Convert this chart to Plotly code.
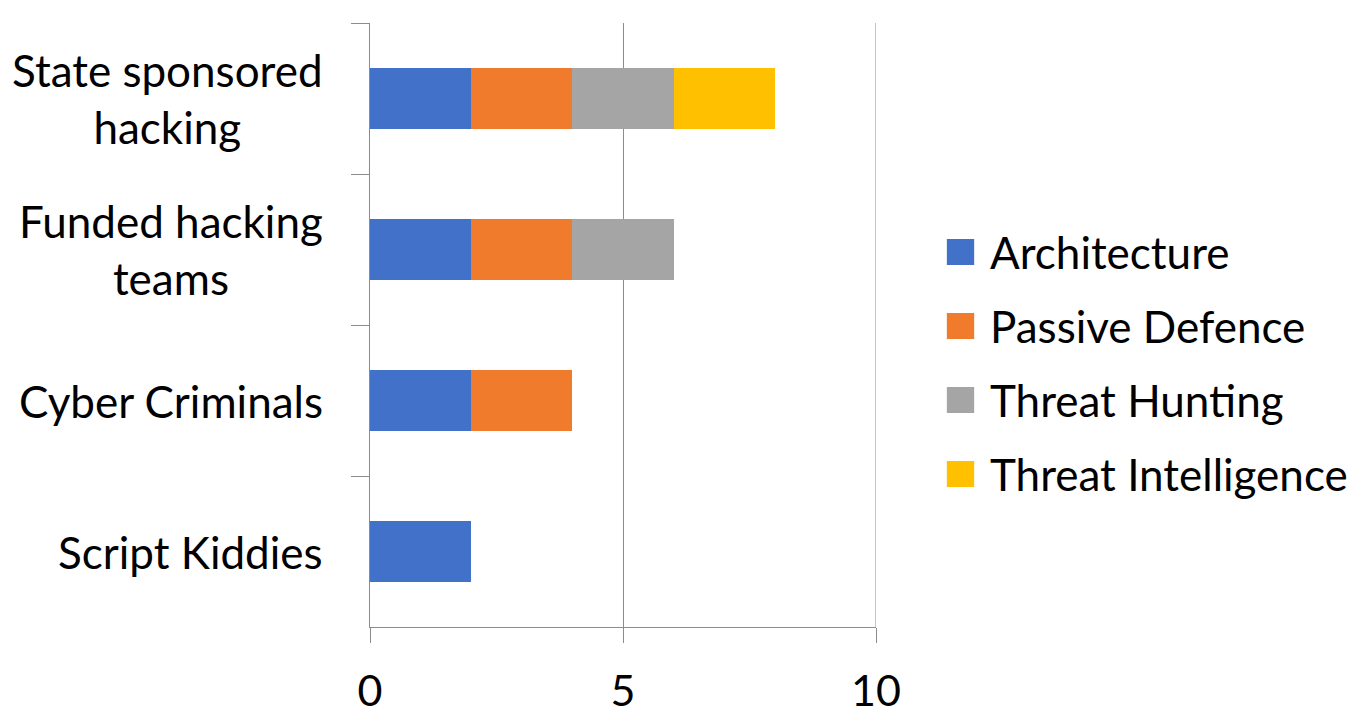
import plotly.graph_objects as go

# Threat actors (top to bottom) and the capability stack per actor
categories = ["State sponsored<br>hacking", "Funded hacking<br>teams", "Cyber Criminals", "Script Kiddies"]
series_names = ["Architecture", "Passive Defence", "Threat Hunting", "Threat Intelligence"]
architecture = [2, 2, 2, 2]
passive_defence = [2, 2, 2, 0]
threat_hunting = [2, 2, 0, 0]
threat_intelligence = [2, 0, 0, 0]
x_ticks = [0, 5, 10]

series_values = [architecture, passive_defence, threat_hunting, threat_intelligence]
colors = ["#4171C9", "#F07B2C", "#A5A5A5", "#FFC000"]
grid = "#8c8c8c"
font = "Lato"

fig = go.Figure()
for name, vals, col in zip(series_names, series_values, colors):
    fig.add_trace(go.Bar(
        y=categories, x=vals, name=name, orientation="h",
        marker=dict(color=col, line=dict(width=0)),
        showlegend=False,
    ))

# category labels, centred multi-line like the original
for cat in categories:
    fig.add_annotation(
        x=-0.089, xref="paper", y=cat, yref="y",
        text=cat, showarrow=False, xanchor="right", yanchor="middle",
        align="center", font=dict(family=font, size=44, color="black"),
    )

# legend drawn by hand so the swatches can be large
for i, (name, col) in enumerate(zip(series_names, colors)):
    ypx = 252 + 74 * i
    yp = (627 - ypx) / 604
    fig.add_shape(
        type="rect", xref="paper", yref="paper",
        x0=1.140, x1=1.194, y0=yp - 13 / 604, y1=yp + 13 / 604,
        fillcolor=col, line=dict(width=0),
    )
    fig.add_annotation(
        x=1.221, xref="paper", y=yp, yref="paper",
        text=name, showarrow=False, xanchor="left", yanchor="middle",
        font=dict(family=font, size=44, color="black"),
    )

# plotly drops the grid line sitting on the range edge, so add it back
fig.add_shape(
    type="line", xref="x", yref="paper",
    x0=x_ticks[-1], x1=x_ticks[-1], y0=0, y1=1,
    line=dict(color=grid, width=1), layer="below",
)

fig.update_layout(
    barmode="stack",
    bargap=0.6,
    width=1370, height=728,
    margin=dict(l=362, r=502, t=15, b=109),
    plot_bgcolor="white", paper_bgcolor="white",
    font=dict(family=font, size=40, color="black"),
    showlegend=False,
)
fig.update_xaxes(
    range=[0, 10], tickvals=x_ticks,
    showgrid=True, gridcolor=grid, gridwidth=1,
    showline=True, linecolor=grid, linewidth=1,
    ticks="outside", ticklen=15, tickcolor=grid,
    ticklabelstandoff=11, zeroline=False,
    tickfont=dict(family=font, size=43, color="black"),
)
fig.update_yaxes(
    autorange="reversed", showticklabels=False,
    tickson="boundaries", ticks="outside", ticklen=18, tickcolor=grid,
    showline=True, linecolor=grid, linewidth=1, showgrid=False,
)

fig.write_html("out.html")
